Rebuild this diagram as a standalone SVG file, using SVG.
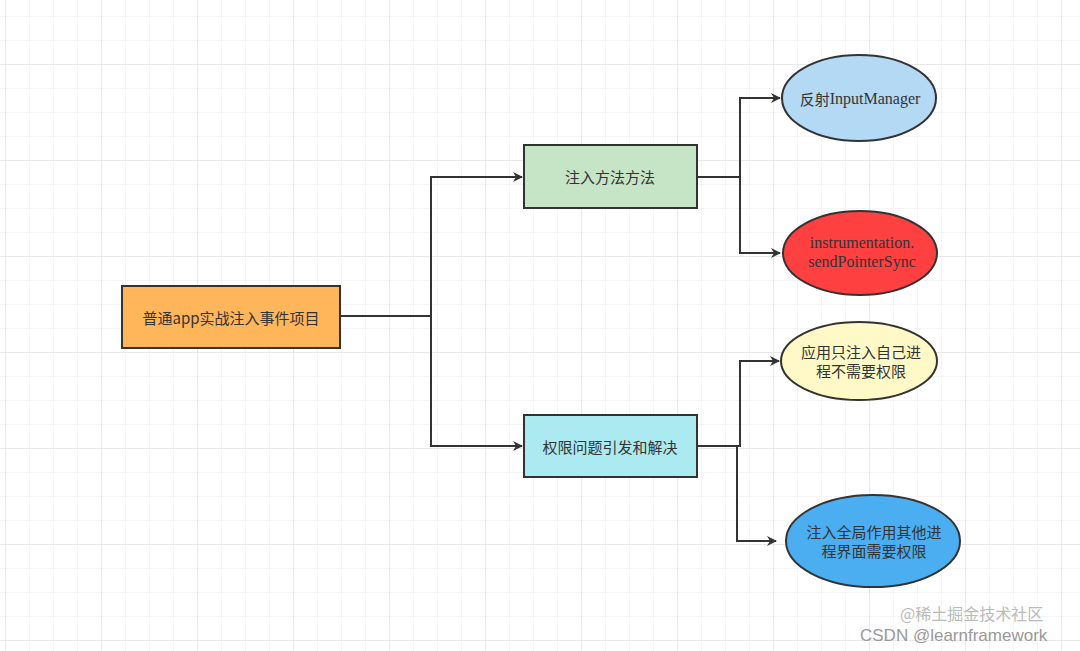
<svg xmlns="http://www.w3.org/2000/svg" width="1080" height="651" viewBox="0 0 1080 651">
<defs>
<pattern id="minor" width="24" height="24" patternUnits="userSpaceOnUse" x="5" y="16"><path d="M0 0H24M0 0V24" fill="none" stroke="#ececec" stroke-width="1"/></pattern>
<pattern id="major" width="96" height="96" patternUnits="userSpaceOnUse" x="5" y="64"><path d="M0 0H96M0 0V96" fill="none" stroke="#dedede" stroke-width="1"/></pattern>
<marker id="ah" markerWidth="10" markerHeight="10" refX="9" refY="5" orient="auto" markerUnits="userSpaceOnUse"><path d="M0 0L10 5L0 10L3 5Z" fill="#333"/></marker>
</defs>
<style>
.n{stroke:#333;stroke-width:2}
.t{font-family:"Noto Sans CJK SC","Liberation Sans",sans-serif;font-size:15px;fill:#333;text-anchor:middle;dominant-baseline:central}
.s{font-family:"Liberation Serif","Noto Sans CJK SC",serif;font-size:16px;fill:#333;text-anchor:middle;dominant-baseline:central}
.c{fill:none;stroke:#333;stroke-width:2}
</style>
<rect width="1080" height="651" fill="#fff"/>
<rect width="1080" height="651" fill="url(#minor)"/>
<rect width="1080" height="651" fill="url(#major)"/>
<g id="connectors">
<path class="c" d="M340 316H431V177H522" marker-end="url(#ah)"/>
<path class="c" d="M431 316V446H522" marker-end="url(#ah)"/>
<path class="c" d="M697 177H740V98H780" marker-end="url(#ah)"/>
<path class="c" d="M740 177V253H780" marker-end="url(#ah)"/>
<path class="c" d="M697 446H740V361H779" marker-end="url(#ah)"/>
<path class="c" d="M737 446V541H776" marker-end="url(#ah)"/>
</g>
<g id="root"><rect class="n" x="122" y="286" width="218" height="62" fill="#ffb55a"/><text class="t" x="231" y="317">普通app实战注入事件项目</text></g>
<g id="method"><rect class="n" x="524" y="145" width="173" height="63" fill="#c6e5c6"/><text class="t" x="610" y="176">注入方法方法</text></g>
<g id="perm"><rect class="n" x="524" y="415" width="173" height="62" fill="#abeaf0"/><text class="t" x="610" y="446">权限问题引发和解决</text></g>
<g id="reflect"><ellipse class="n" cx="859" cy="98" rx="77" ry="43" fill="#b3d9f5"/><text class="s" x="860" y="98"><tspan font-family="Noto Sans CJK SC" font-size="15">反射</tspan>InputManager</text></g>
<g id="instr"><ellipse class="n" cx="860" cy="253" rx="77" ry="42" fill="#ff4040"/><text class="s" x="862" y="242">instrumentation.</text><text class="s" x="862" y="261">sendPointerSync</text></g>
<g id="self"><ellipse class="n" cx="859" cy="361" rx="78" ry="39" fill="#fff9c8"/><text class="t" x="861" y="351">应用只注入自己进</text><text class="t" x="861" y="370">程不需要权限</text></g>
<g id="global"><ellipse class="n" cx="873" cy="541" rx="87" ry="46" fill="#4aaef0"/><text class="t" x="874" y="531">注入全局作用其他进</text><text class="t" x="874" y="550">程界面需要权限</text></g>
<text x="900" y="620" font-family="Noto Sans CJK SC,sans-serif" font-size="16" fill="#bbb">@稀土掘金技术社区</text>
<text x="860" y="641" font-family="Liberation Sans,sans-serif" font-size="17" fill="#999">CSDN @learnframework</text>
</svg>
